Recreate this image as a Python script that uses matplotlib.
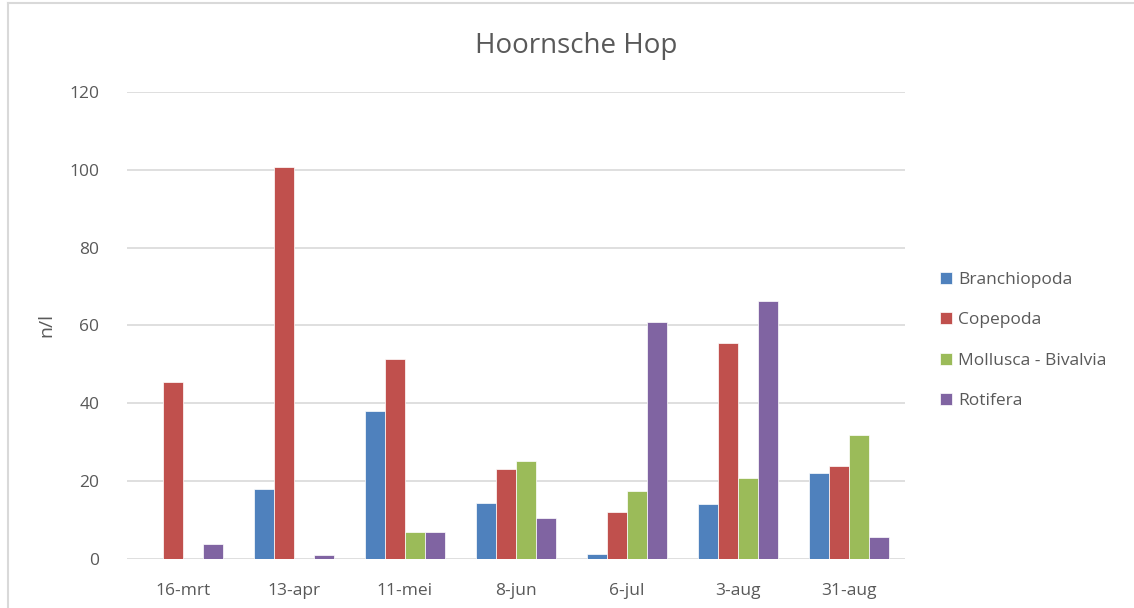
import numpy as np
import matplotlib.pyplot as plt
from matplotlib.lines import Line2D

dates = ["16-mrt", "13-apr", "11-mei", "8-jun", "6-jul", "3-aug", "31-aug"]
branchiopoda = [0, 18.1, 38.1, 14.4, 1.2, 14.1, 22.0]
copepoda = [45.4, 100.8, 51.4, 23.1, 12.1, 55.5, 23.9]
mollusca = [0, 0, 7.0, 25.1, 17.5, 20.7, 31.8]
rotifera = [3.9, 0.95, 7.0, 10.5, 60.8, 66.3, 5.7]

series = [
    ("Branchiopoda", branchiopoda, "#4F81BD"),
    ("Copepoda", copepoda, "#C0504D"),
    ("Mollusca - Bivalvia", mollusca, "#9BBB59"),
    ("Rotifera", rotifera, "#8064A2"),
]

plt.rcParams["font.family"] = ["Open Sans", "DejaVu Sans"]
text_color = "#595959"

fig = plt.figure(figsize=(11.34, 6.08), dpi=100)
ax = fig.add_axes([0.112, 0.0806, 0.686, 0.7681])

x = np.arange(len(dates))
width = 0.18
for i, (name, vals, color) in enumerate(series):
    ax.bar(x + (i - 1.5) * width, vals, width, color=color, label=name,
           edgecolor="white", linewidth=0.5, zorder=3)

ax.set_xlim(-0.5, len(dates) - 0.5)
ax.set_ylim(0, 120)
ax.set_yticks(range(0, 121, 20))
ax.set_xticks(x)
ax.set_xticklabels(dates)
ax.tick_params(length=0, labelsize=12.5, colors=text_color)
ax.tick_params(axis="x", pad=17)
ax.tick_params(axis="y", pad=20)
ax.grid(axis="y", color="#D9D9D9", linewidth=1.2, zorder=0)
for s in ax.spines.values():
    s.set_visible(False)
ax.set_ylabel("n/l", fontsize=14, color=text_color, labelpad=10)

fig.text(0.508, 0.924, "Hoornsche Hop", ha="center", va="center",
         fontsize=20, color=text_color)

ax.legend(loc="center left", bbox_to_anchor=(1.025, 0.468), frameon=False,
          fontsize=12.5, labelcolor=text_color, handlelength=0.7,
          handleheight=0.7, handletextpad=0.35, labelspacing=1.4)

# light chart border (top and left visible)
fig.add_artist(Line2D([0.007, 1.0], [0.995, 0.995], color="#D9D9D9", lw=1.5))
fig.add_artist(Line2D([0.007, 0.007], [0.0, 0.995], color="#D9D9D9", lw=1.5))

fig.savefig("out.png", dpi=100)
